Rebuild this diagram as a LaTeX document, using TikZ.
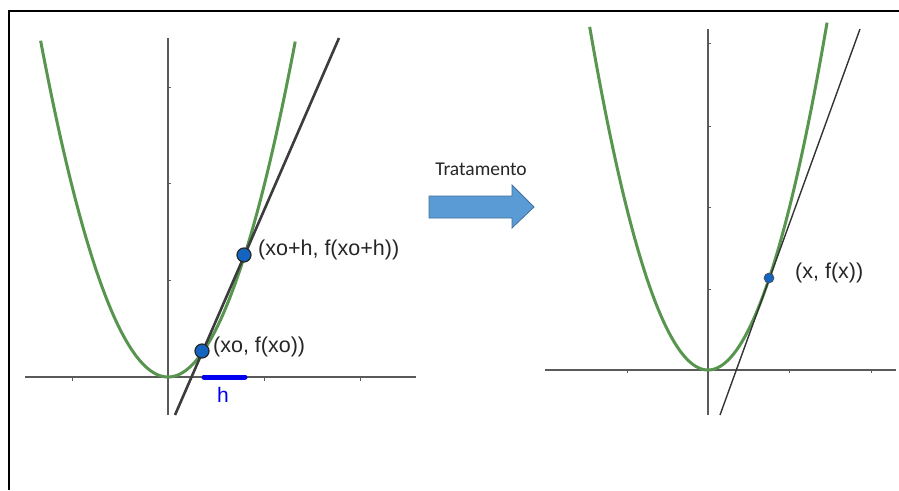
\documentclass[tikz,border=0pt]{standalone}
\usepackage{fontspec}
\setmainfont{Liberation Sans}
\newfontfamily\calib{Carlito}
\newfontfamily\ggb{Liberation Sans}
\definecolor{curvegreen}{RGB}{88,150,80}
\definecolor{linegray}{RGB}{60,60,60}
\definecolor{axisgray}{RGB}{90,90,90}
\definecolor{ptblue}{RGB}{21,101,192}
\definecolor{arrowfill}{RGB}{91,155,213}
\definecolor{arrowedge}{RGB}{65,113,156}
\definecolor{hblue}{RGB}{0,0,240}
\tikzset{
  curve/.style={curvegreen, line width=3pt},
  axisline/.style={axisgray, line width=1.2pt},
  tickline/.style={axisgray, line width=1pt},
  bigpt/.style={circle, fill=ptblue, draw=black!85, line width=1.2pt, minimum size=14pt, inner sep=0pt},
  smallpt/.style={circle, fill=ptblue, draw=black!70, line width=0.6pt, minimum size=10pt, inner sep=0pt},
  lbl/.style={text=black!85, font=\ggb\fontsize{21.5}{24}\selectfont, inner sep=0pt, anchor=west}
}
\begin{document}
\begin{tikzpicture}[x=1pt, y=-1pt]
\useasboundingbox (0,0) rectangle (899,490);
\fill[white] (0,0) rectangle (899,490);
% frame
\draw[black, line width=2pt] (9,490) -- (9,11) -- (899,11);

% ---------- left graph ----------
\coordinate (lxa) at (25,377);
\coordinate (lxb) at (416,377);
\coordinate (lya) at (168,415);
\coordinate (lyb) at (168,38);
\draw[axisline] (lxa) -- (lxb);
\draw[axisline] (lya) -- (lyb);
\foreach \t in {72,264,360} \draw[tickline] (\t,377) -- (\t,381);
\foreach \t in {87,183,280} \draw[tickline] (168,\t) -- (171,\t);
\draw[curve] plot[domain=-1.32:1.32, samples=120, smooth] ({168+96.5*\x},{377-193*\x*\x});
\coordinate (sa) at (175,415);
\coordinate (sb) at (339,38);
\draw[linegray, line width=2.6pt] (sa) -- (sb);
\coordinate (ha) at (204,377);
\coordinate (hb) at (245,377);
\draw[hblue, line width=5pt, line cap=round] (ha) -- (hb);
\node[text=hblue, font=\ggb\fontsize{21}{24}\selectfont, inner sep=0pt] (hl) at (223,395) {h};
\node[bigpt] (p0) at (202,351) {};
\node[bigpt] (p1) at (244,255) {};
\node[lbl] (l0) at (213,347) {(xo, f(xo))};
\node[lbl] (l1) at (258,250) {(xo+h, f(xo+h))};

% ---------- arrow ----------
\node[font=\calib\fontsize{19.5}{22}\selectfont, text=black!85, inner sep=0pt] (tr) at (481,169) {Tratamento};
\draw[fill=arrowfill, draw=arrowedge, line width=0.8pt]
  (429,196) -- (512,196) -- (512,185) -- (534,207) -- (512,228) -- (512,218) -- (429,218) -- cycle;

% ---------- right graph ----------
\coordinate (rxa) at (545,370);
\coordinate (rxb) at (896,370);
\coordinate (rya) at (708,415);
\coordinate (ryb) at (708,29);
\draw[axisline] (rxa) -- (rxb);
\draw[axisline] (rya) -- (ryb);
\foreach \t in {627,789,871} \draw[tickline] (\t,370) -- (\t,373);
\foreach \t in {43,126,207,289} \draw[tickline] (708,\t) -- (711,\t);
\draw[curve] plot[domain=-1.45:1.46, samples=120, smooth] ({708+81.6*\x},{370-163.2*\x*\x});
\coordinate (ta) at (720,415);
\coordinate (tb) at (860,29);
\draw[black!80, line width=1.4pt] (ta) -- (tb);
\node[smallpt] (p2) at (769,278) {};
\node[lbl] (l2) at (795,273) {(x, f(x))};
\end{tikzpicture}
\end{document}
